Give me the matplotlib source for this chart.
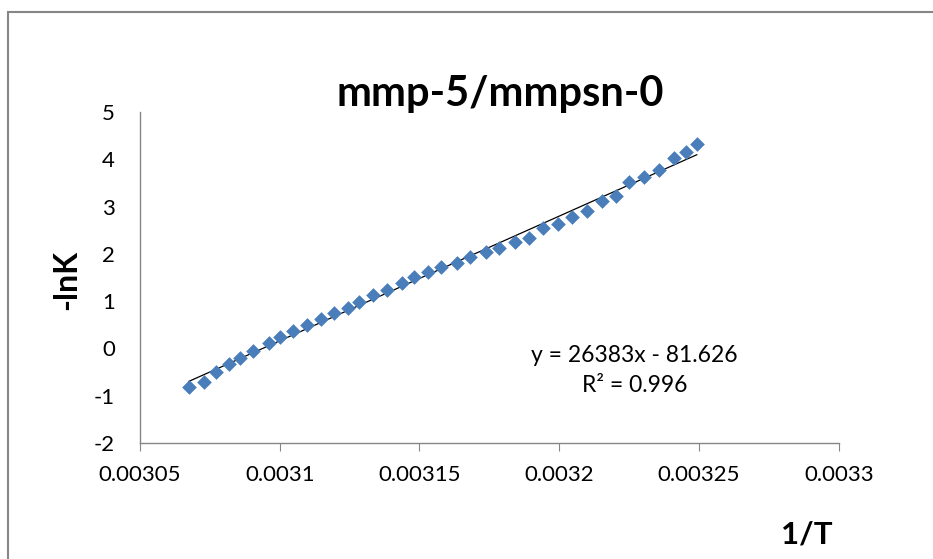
import matplotlib
matplotlib.use("Agg")
from matplotlib import pyplot as plt
from matplotlib.patches import Rectangle

plt.rcParams['font.family'] = ['Lato', 'DejaVu Sans']
plt.rcParams['axes.unicode_minus'] = False

# 1/T values and -lnK values
inv_T = [0.0030675, 0.0030729, 0.0030772, 0.0030818, 0.0030858, 0.0030904,
         0.0030961, 0.0031001, 0.0031047, 0.0031097, 0.0031147, 0.0031194,
         0.0031244, 0.0031283, 0.0031333, 0.0031383, 0.0031437, 0.0031480,
         0.0031530, 0.0031577, 0.0031634, 0.0031680, 0.0031737, 0.0031784,
         0.0031841, 0.0031891, 0.0031941, 0.0031995, 0.0032045, 0.0032099,
         0.0032152, 0.0032202, 0.0032249, 0.0032303, 0.0032356, 0.0032410,
         0.0032453, 0.0032492]
neg_lnK = [-0.81, -0.71, -0.50, -0.33, -0.20, -0.05, 0.12, 0.24, 0.37, 0.50,
           0.62, 0.75, 0.86, 0.98, 1.13, 1.24, 1.39, 1.51, 1.62, 1.72,
           1.81, 1.93, 2.04, 2.12, 2.25, 2.34, 2.55, 2.63, 2.78, 2.91,
           3.12, 3.22, 3.52, 3.63, 3.77, 4.03, 4.15, 4.32]

slope = 26383
intercept = -81.626
r2 = 0.996

xticks = [0.00305, 0.0031, 0.00315, 0.0032, 0.00325, 0.0033]
xtick_labels = ['0.00305', '0.0031', '0.00315', '0.0032', '0.00325', '0.0033']
yticks = [-2, -1, 0, 1, 2, 3, 4, 5]

fig = plt.figure(figsize=(9.33, 5.59), dpi=100)
ax = fig.add_axes([0.150, 0.2075, 0.749, 0.592])

ax.scatter(inv_T, neg_lnK, marker='D', s=56, color='#4A7EBB', zorder=3,
           linewidths=0)

# linear trend line
x0, x1 = inv_T[0], inv_T[-1]
ax.plot([x0, x1], [slope * x0 + intercept, slope * x1 + intercept],
        color='black', lw=0.9, zorder=2)

ax.set_xlim(0.00305, 0.0033)
ax.set_ylim(-2, 5)
ax.set_xticks(xticks)
ax.set_xticklabels(xtick_labels)
ax.set_yticks(yticks)

for s in ['top', 'right']:
    ax.spines[s].set_visible(False)
for s in ['left', 'bottom']:
    ax.spines[s].set_color('#868686')
    ax.spines[s].set_linewidth(1.0)

ax.tick_params(axis='x', direction='out', length=6, color='#868686',
               labelsize=16, pad=10)
ax.tick_params(axis='y', length=0, labelsize=16, pad=18)

eq = 'y = %dx - %.3f\nR² = %.3f' % (slope, -intercept, r2)
ax.text(0.003227, -0.47, eq, ha='center', va='center', fontsize=16.5,
        linespacing=1.5)

fig.text(0.536, 0.832, 'mmp-5/mmpsn-0', ha='center', va='center',
         fontsize=30, fontweight='bold')
fig.text(0.071, 0.50, '-lnK', ha='center', va='center', rotation=90,
         fontsize=23, fontweight='bold')
fig.text(0.865, 0.043, '1/T', ha='center', va='center',
         fontsize=22.5, fontweight='bold')

# chart area border
fig.patches.append(Rectangle((8 / 933, -0.05), 1.0, 1 - 12 / 559 + 0.05,
                             transform=fig.transFigure, fill=False,
                             edgecolor='#868686', lw=1.5))

fig.savefig('out.png', dpi=100)
